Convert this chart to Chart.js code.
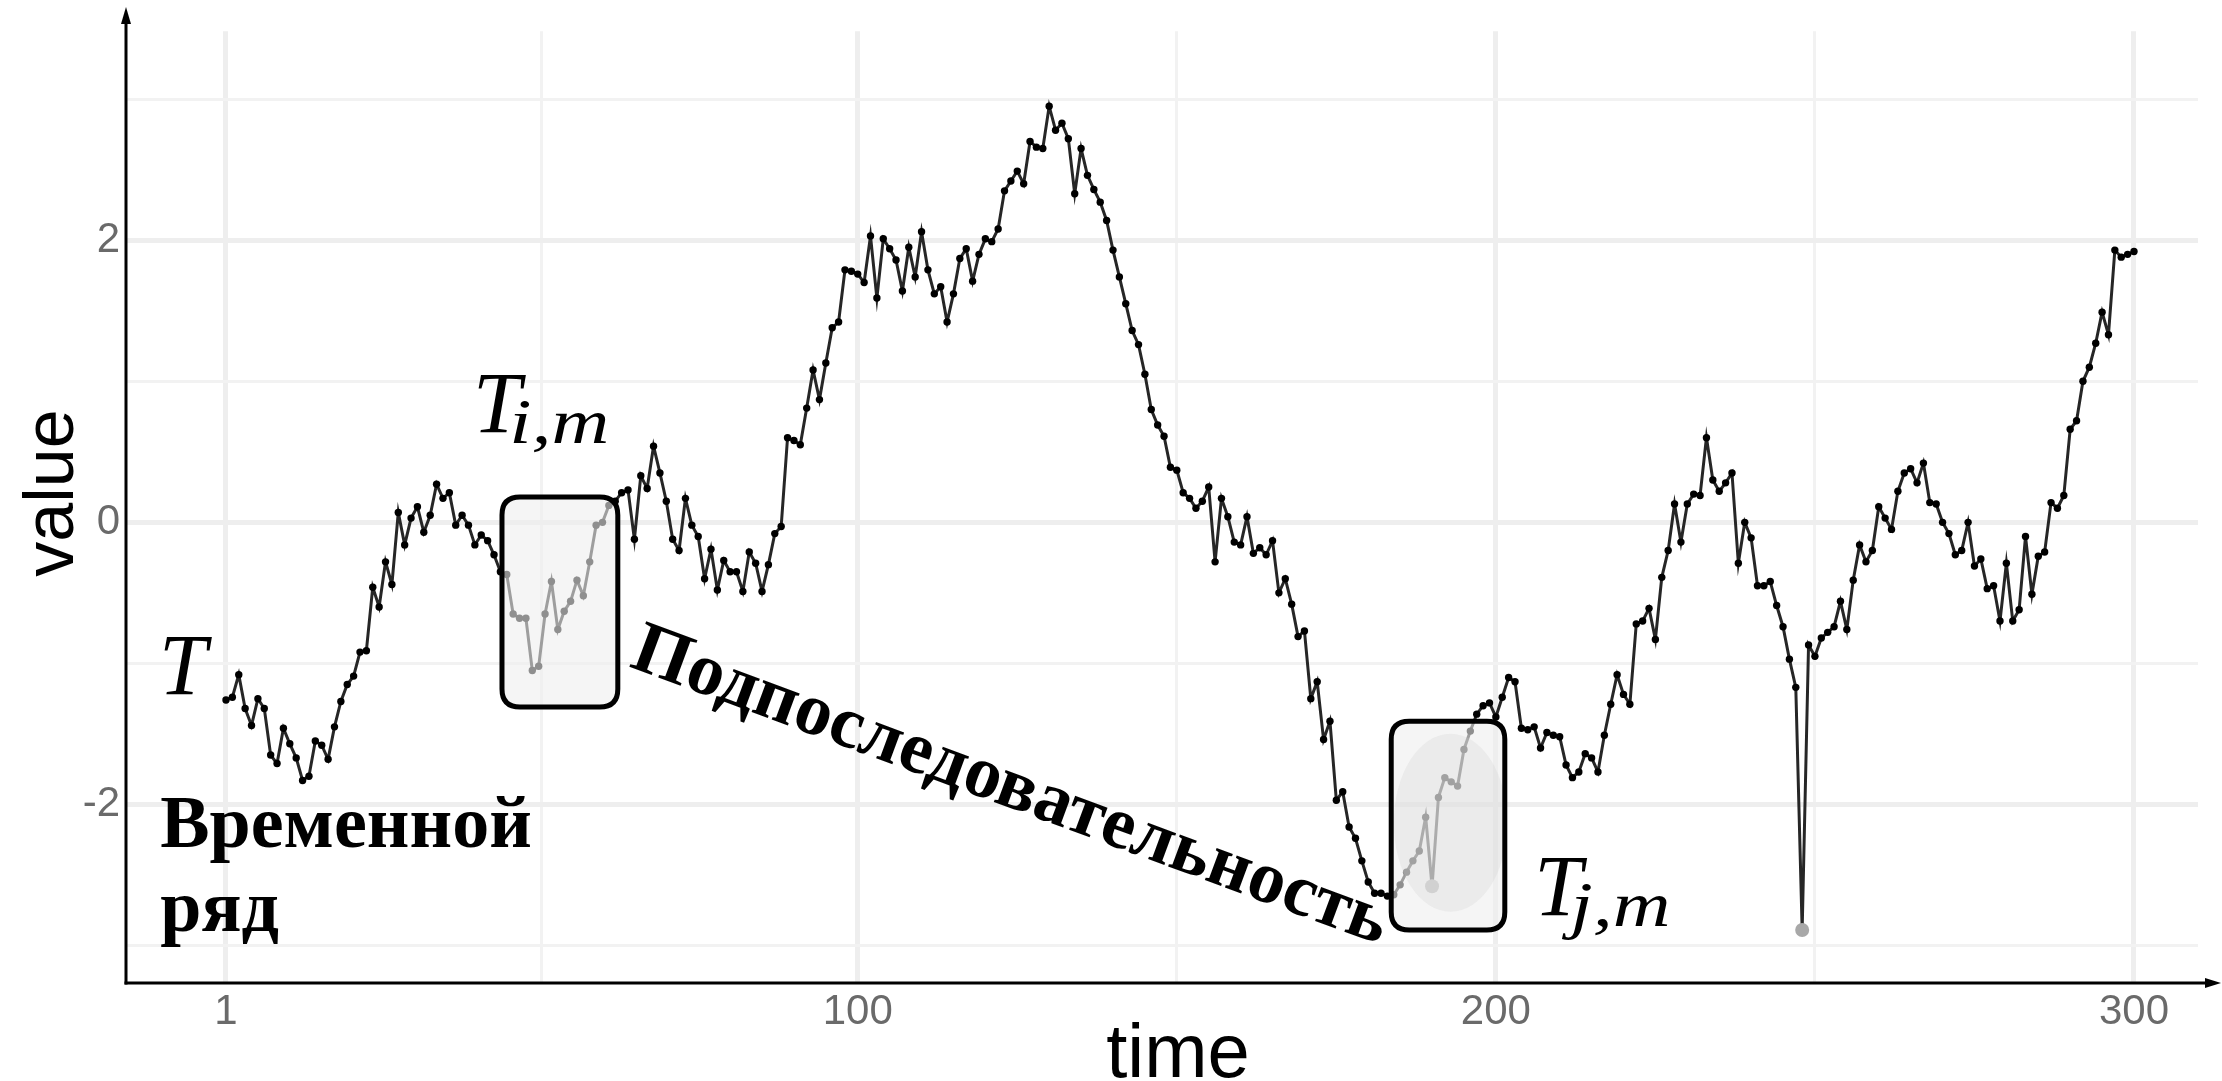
<!DOCTYPE html>
<html>
<head>
<meta charset="utf-8">
<script src="https://cdn.jsdelivr.net/npm/chart.js@4.4.1/dist/chart.umd.min.js"></script>
<style>
  html, body { margin: 0; padding: 0; background: #ffffff; }
  #wrap { width: 2222px; height: 1081px; position: relative; }
</style>
</head>
<body>
<div id="wrap"><canvas id="chart" width="2222" height="1081"></canvas></div>
<script>
// Time steps of the series
const timeSteps = [];
for (let t = 1; t <= 300; t++) timeSteps.push(t);

// Observed values, one per time step
const seriesValues = [
  -1.26, -1.24, -1.08, -1.32, -1.44, -1.25, -1.32, -1.65, -1.71, -1.46,
  -1.57, -1.67, -1.83, -1.80, -1.55, -1.58, -1.68, -1.45, -1.27, -1.15,
  -1.09, -0.92, -0.91, -0.46, -0.60, -0.28, -0.44, 0.07, -0.16, 0.03,
  0.11, -0.07,
  0.05, 0.27, 0.17, 0.21, -0.02, 0.05, -0.02, -0.16, -0.09, -0.13, -0.23, -0.35,
  -0.37, -0.65, -0.68, -0.68, -1.05, -1.02, -0.65, -0.42, -0.76, -0.63,
  -0.56, -0.41, -0.52, -0.28, -0.02, 0.00, 0.12, 0.15, 0.21,
  0.23, -0.12, 0.33, 0.24, 0.54, 0.35, 0.15, -0.12, -0.20, 0.17,
  -0.02, -0.10, -0.40, -0.19, -0.48, -0.27, -0.35, -0.35, -0.49, -0.21,
  -0.29, -0.49, -0.30, -0.08, -0.03, 0.60, 0.58, 0.55, 0.81, 1.08,
  0.87, 1.13, 1.38, 1.42, 1.79, 1.78, 1.76,
  1.70, 2.03, 1.59, 2.01, 1.94, 1.86, 1.64, 1.95, 1.74, 2.06,
  1.79, 1.62, 1.67, 1.42, 1.62, 1.87, 1.94, 1.71, 1.90, 2.01,
  1.99, 2.08, 2.35, 2.42, 2.49, 2.40, 2.70, 2.66, 2.65, 2.95,
  2.78,
  2.83, 2.72, 2.33, 2.65, 2.46, 2.36, 2.27, 2.14, 1.93,
  1.74, 1.55, 1.36, 1.26, 1.05, 0.80, 0.69, 0.61, 0.39, 0.37,
  0.21, 0.17, 0.10, 0.15, 0.25, -0.28, 0.17, 0.04, -0.14, -0.16,
  0.04, -0.22, -0.18,
  -0.23, -0.13, -0.50, -0.40, -0.58, -0.81, -0.77,
  -1.25, -1.13, -1.54, -1.41, -1.97, -1.91, -2.16, -2.24, -2.40, -2.55,
  -2.63, -2.63, -2.65, -2.64, -2.57, -2.48, -2.40, -2.33, -2.09, -2.58,
  -1.95, -1.81, -1.84, -1.87, -1.61, -1.48,
  -1.36, -1.30, -1.28, -1.38,
  -1.24, -1.10, -1.13, -1.46, -1.47, -1.45, -1.60, -1.49, -1.51, -1.52,
  -1.72, -1.81, -1.77, -1.64, -1.67, -1.77, -1.51, -1.29, -1.08, -1.22,
  -1.29, -0.72, -0.70, -0.61, -0.83, -0.39, -0.20, 0.13, -0.14,
  0.13, 0.20, 0.19, 0.60, 0.30, 0.22, 0.28, 0.35, -0.29, 0.00,
  -0.11, -0.45, -0.45, -0.42, -0.59, -0.74, -0.97, -1.17, -2.89, -0.87,
  -0.95, -0.82, -0.78, -0.74, -0.56, -0.76, -0.41, -0.16, -0.28, -0.20,
  0.11, 0.03, -0.05,
  0.22, 0.35, 0.38, 0.28, 0.42, 0.14, 0.13, 0.00,
  -0.08, -0.23, -0.20, 0.00, -0.31, -0.26, -0.47, -0.45, -0.70, -0.29,
  -0.70, -0.62, -0.10, -0.51, -0.24, -0.21, 0.14, 0.10, 0.19, 0.66,
  0.72, 1.00, 1.10, 1.27, 1.49, 1.33, 1.93, 1.88, 1.90, 1.92
];

// Axis breaks
const xMajorTicks = [1, 100, 200, 300];
const xMinorTicks = [50.5, 150, 250];
const yMajorTicks = [-2, 0, 2];
const yMinorTicks = [-3, -1, 1, 3];

// Time steps marked with an enlarged grey point
const markedSteps = [190, 248];

// Windows drawn around the two subsequences (time range, value range)
const windowTimes = [[44.25, 62.4], [183.6, 201.4]];
const windowValues = [[-1.31, 0.18], [-2.89, -1.41]];

const points = timeSteps.map((t, i) => ({ x: t, y: seriesValues[i] }));

const isMarked = (ctx) => ctx.raw && markedSteps.includes(ctx.raw.x);

function roundRect(ctx, x, y, w, h, r) {
  ctx.beginPath();
  ctx.moveTo(x + r, y);
  ctx.lineTo(x + w - r, y);
  ctx.quadraticCurveTo(x + w, y, x + w, y + r);
  ctx.lineTo(x + w, y + h - r);
  ctx.quadraticCurveTo(x + w, y + h, x + w - r, y + h);
  ctx.lineTo(x + r, y + h);
  ctx.quadraticCurveTo(x, y + h, x, y + h - r);
  ctx.lineTo(x, y + r);
  ctx.quadraticCurveTo(x, y, x + r, y);
  ctx.closePath();
}

// Label with an italic base letter and a smaller subscript
function subscriptLabel(ctx, base, sub, x, y) {
  ctx.save();
  ctx.fillStyle = '#000';
  ctx.textBaseline = 'alphabetic';
  ctx.textAlign = 'left';
  ctx.font = 'italic 86px "Liberation Serif"';
  ctx.fillText(base, x, y);
  const w = ctx.measureText(base).width;
  ctx.font = 'italic 64px "Liberation Serif"';
  ctx.translate(x + w * 0.76, y + 11);
  ctx.scale(1.25, 1);
  ctx.fillText(sub, 0, 0);
  ctx.restore();
}

const annotationPlugin = {
  id: 'subsequenceAnnotations',
  afterDatasetsDraw(chart) {
    const { ctx } = chart;
    const xs = chart.scales.x, ys = chart.scales.y;
    const px = (t) => xs.getPixelForValue(t);
    const py = (v) => ys.getPixelForValue(v);

    // subsequence windows
    windowTimes.forEach((tr, k) => {
      const vr = windowValues[k];
      const x0 = px(tr[0]), x1 = px(tr[1]);
      const y0 = py(vr[1]), y1 = py(vr[0]);
      ctx.save();
      roundRect(ctx, x0, y0, x1 - x0, y1 - y0, 18);
      ctx.fillStyle = 'rgba(238,238,238,0.6)';
      ctx.fill();
      if (k === 1) {
        ctx.save();
        ctx.clip();
        ctx.beginPath();
        ctx.ellipse(px(192.9), py(-2.13), 8.9 * 6.381, 0.62 * 143.6, 0, 0, Math.PI * 2);
        ctx.fillStyle = 'rgba(210,210,210,0.28)';
        ctx.fill();
        ctx.restore();
        roundRect(ctx, x0, y0, x1 - x0, y1 - y0, 18);
      }
      ctx.lineWidth = 5;
      ctx.strokeStyle = '#000';
      ctx.stroke();
      ctx.restore();
    });

    // text annotations
    ctx.save();
    ctx.fillStyle = '#000';
    ctx.textBaseline = 'alphabetic';
    ctx.textAlign = 'left';
    ctx.font = 'italic 86px "Liberation Serif"';
    ctx.fillText('T', px(-9.5), py(-1.22));

    ctx.font = 'bold 74px "Liberation Serif"';
    ctx.fillText('Временной', px(-9.3), py(-2.305));
    ctx.fillText('ряд', px(-9.3), py(-2.895));

    ctx.save();
    ctx.translate(px(64.0), py(-1.02));
    ctx.rotate(0.355);
    ctx.font = 'bold 74px "Liberation Serif"';
    ctx.fillText('Подпоследовательность', 0, 0);
    ctx.restore();
    ctx.restore();

    subscriptLabel(ctx, 'T', 'i,m', px(39.7), py(0.64));
    subscriptLabel(ctx, 'T', 'j,m', px(206.0), py(-2.785));
  },
  afterDraw(chart) {
    const { ctx, chartArea } = chart;
    const left = chartArea.left, bottom = chartArea.bottom;
    ctx.save();
    ctx.strokeStyle = '#000';
    ctx.fillStyle = '#000';
    ctx.lineWidth = 3;
    // y axis with arrow
    ctx.beginPath();
    ctx.moveTo(left, bottom + 1.5);
    ctx.lineTo(left, 20);
    ctx.stroke();
    ctx.beginPath();
    ctx.moveTo(left, 7);
    ctx.lineTo(left - 5, 24);
    ctx.lineTo(left + 5, 24);
    ctx.closePath();
    ctx.fill();
    // x axis with arrow
    ctx.beginPath();
    ctx.moveTo(left - 1.5, bottom);
    ctx.lineTo(2210, bottom);
    ctx.stroke();
    ctx.beginPath();
    ctx.moveTo(2221, bottom);
    ctx.lineTo(2205, bottom - 5);
    ctx.lineTo(2205, bottom + 5);
    ctx.closePath();
    ctx.fill();

    // axis titles
    ctx.fillStyle = '#000';
    ctx.font = '76px "Liberation Sans", Arial, sans-serif';
    ctx.textAlign = 'center';
    ctx.textBaseline = 'alphabetic';
    ctx.fillText('time', 1178, 1077);
    ctx.save();
    ctx.translate(73, 493);
    ctx.rotate(-Math.PI / 2);
    ctx.font = '70px "Liberation Sans", Arial, sans-serif';
    ctx.fillText('value', 0, 0);
    ctx.restore();
    ctx.restore();
  }
};

const tickFont = { family: '"Liberation Sans", Arial, sans-serif', size: 42 };

new Chart(document.getElementById('chart'), {
  type: 'line',
  data: {
    datasets: [{
      data: points,
      borderColor: '#262626',
      borderWidth: 3,
      tension: 0,
      pointRadius: (c) => isMarked(c) ? 7 : 3.7,
      pointBackgroundColor: (c) => isMarked(c) ? '#a8a8a8' : '#000000',
      pointBorderWidth: 0,
      pointHoverRadius: 0
    }]
  },
  options: {
    responsive: false,
    animation: false,
    events: [],
    layout: { padding: { top: 14, right: 24, left: 0, bottom: 0 } },
    plugins: { legend: { display: false }, tooltip: { enabled: false } },
    scales: {
      x: {
        type: 'linear',
        min: -14.67,
        max: 310.03,
        afterFit(scale) { scale.height = 98; },
        afterBuildTicks(scale) {
          scale.ticks = xMajorTicks.concat(xMinorTicks).sort((a, b) => a - b).map(v => ({ value: v }));
        },
        border: { display: false },
        grid: {
          drawTicks: false,
          color: (c) => xMajorTicks.includes(c.tick && c.tick.value) ? '#eeeeee' : '#f2f2f2',
          lineWidth: (c) => xMajorTicks.includes(c.tick && c.tick.value) ? 5 : 3
        },
        ticks: {
          autoSkip: false,
          maxRotation: 0,
          padding: 4,
          color: '#6a6a6a',
          font: tickFont,
          callback: (v) => xMajorTicks.includes(v) ? String(v) : ''
        }
      },
      y: {
        type: 'linear',
        min: -3.266,
        max: 3.482,
        afterFit(scale) { scale.width = 126; },
        afterBuildTicks(scale) {
          scale.ticks = yMajorTicks.concat(yMinorTicks).sort((a, b) => a - b).map(v => ({ value: v }));
        },
        border: { display: false },
        grid: {
          drawTicks: false,
          color: (c) => yMajorTicks.includes(c.tick && c.tick.value) ? '#eeeeee' : '#f2f2f2',
          lineWidth: (c) => yMajorTicks.includes(c.tick && c.tick.value) ? 5 : 3
        },
        ticks: {
          padding: 6,
          color: '#6a6a6a',
          font: tickFont,
          callback: (v) => yMajorTicks.includes(v) ? String(v) : ''
        }
      }
    }
  },
  plugins: [annotationPlugin]
});
</script>
</body>
</html>
